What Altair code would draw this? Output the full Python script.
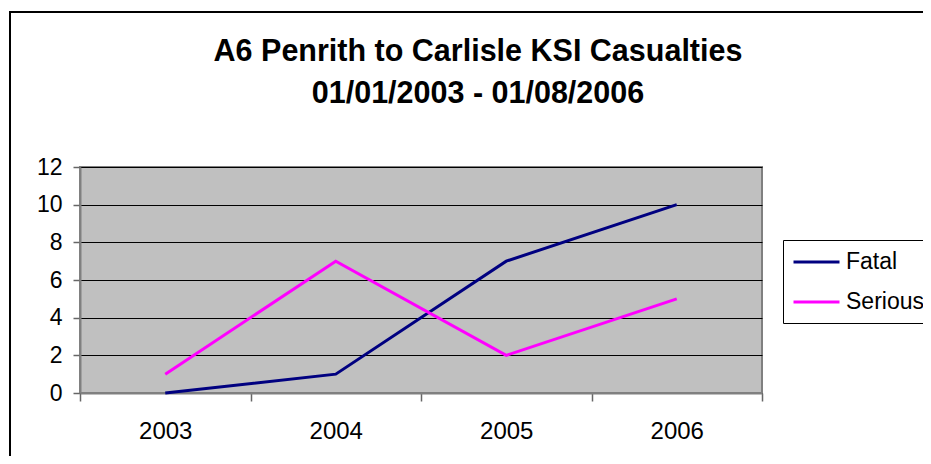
import altair as alt
import pandas as pd

# ---- data ----
years = ["2003", "2004", "2005", "2006"]
fatal = [0, 1, 7, 10]
serious = [1, 7, 2, 5]
series = ["Fatal", "Serious"]
colors = ["#000080", "#FF00FF"]
title_lines = ["A6 Penrith to Carlisle KSI Casualties", "01/01/2003 - 01/08/2006"]
y_ticks = [0, 2, 4, 6, 8, 10, 12]

rows = []
for yr, f, s in zip(years, fatal, serious):
    rows.append({"Year": yr, "Series": "Fatal", "Value": f})
    rows.append({"Year": yr, "Series": "Serious", "Value": s})
df = pd.DataFrame(rows)

FONT = "Liberation Sans"
W, H = 682, 226

lines = alt.Chart(df).mark_line(strokeWidth=3).encode(
    x=alt.X(
        "Year:N",
        sort=years,
        scale=alt.Scale(type="band", paddingInner=0, paddingOuter=0),
        axis=alt.Axis(
            title=None, labelAngle=0, tickBand="extent", grid=False,
            domainColor="#808080", domainWidth=2,
            tickColor="#666666", tickSize=8, tickWidth=1.5,
            labelFont=FONT, labelFontSize=24, labelColor="black",
            labelPadding=18,
        ),
    ),
    y=alt.Y(
        "Value:Q",
        scale=alt.Scale(domain=[0, 12], nice=False),
        axis=alt.Axis(
            values=y_ticks, title=None, grid=True,
            gridColor="black", gridWidth=1, gridOpacity=1,
            domainColor="#808080", domainWidth=2,
            tickColor="#666666", tickSize=7, tickWidth=1.5,
            labelFont=FONT, labelFontSize=23, labelColor="black",
            labelPadding=11,
        ),
    ),
    color=alt.Color(
        "Series:N",
        scale=alt.Scale(domain=series, range=colors),
        legend=alt.Legend(
            title=None, orient="none", legendX=703, legendY=73,
            strokeColor="black", fillColor="white", padding=9,
            labelFont=FONT, labelFontSize=23, labelColor="black",
            symbolType="M-1,0H3", symbolSize=529, symbolStrokeWidth=3,
            labelOffset=28, rowPadding=15,
        ),
    ),
)

t1 = alt.Chart(pd.DataFrame({"t": [title_lines[0]]})).mark_text(
    font=FONT, fontSize=30.5, fontWeight="bold", baseline="alphabetic", align="center", color="black"
).encode(text="t:N", x=alt.value(398), y=alt.value(-106))

t2 = alt.Chart(pd.DataFrame({"t": [title_lines[1]]})).mark_text(
    font=FONT, fontSize=30.5, fontWeight="bold", baseline="alphabetic", align="center", color="black"
).encode(text="t:N", x=alt.value(398), y=alt.value(-64))

border = alt.Chart(pd.DataFrame({"b": [0]})).mark_rect(
    fillOpacity=0, stroke="black", strokeWidth=2
).encode(x=alt.value(-70), x2=alt.value(900), y=alt.value(-155), y2=alt.value(400))

chart = alt.layer(border, lines, t1, t2).properties(
    width=W, height=H,
    autosize=alt.AutoSizeParams(type="none"),
    padding={"left": 72, "top": 159, "right": 161, "bottom": 63},
    background="white",
).configure_view(
    fill="#C0C0C0", stroke="#808080", strokeWidth=2
)

chart.save("out.html", embed_options={"renderer": "svg", "actions": False})
